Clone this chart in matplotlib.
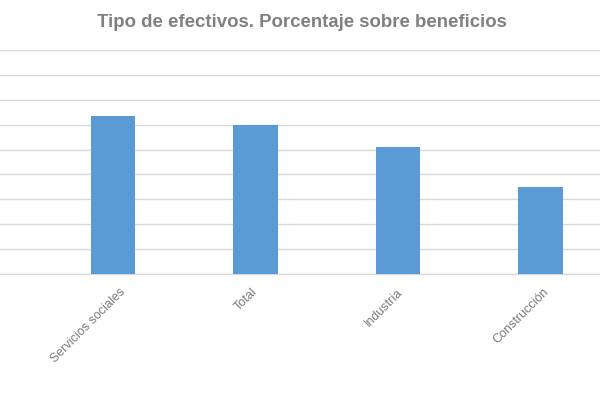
"""Tipo de efectivos: porcentaje sobre beneficios, bar chart."""

import matplotlib
matplotlib.use("Agg")
import matplotlib.pyplot as plt
import matplotlib.transforms as mtransforms

plt.rcParams["font.family"] = ["Liberation Sans", "DejaVu Sans"]

categories = ["Servicios sociales", "Total", "Industria", "Construcción"]
values = [31.7, 29.9, 25.5, 17.5]
title = "Tipo de efectivos. Porcentaje sobre beneficios"

BAR_COLOR = "#5B9BD5"
GRID_COLOR = "#D9D9D9"
TEXT_COLOR = "#808080"

# label end offsets (px) from each tick, as placed in the original
label_dx = [6, -4, -1, 2]


def main() -> None:
    fig = plt.figure(figsize=(6.0, 4.17), dpi=100)
    ax = fig.add_axes([0.0, 0.343, 1.0, 0.537])

    x = list(range(len(categories)))
    ax.bar(x, values, width=0.31, color=BAR_COLOR, zorder=3)

    ax.set_ylim(0, 45)
    ax.set_yticks(range(0, 46, 5))
    ax.set_xlim(-0.793, 3.418)
    ax.yaxis.grid(True, color=GRID_COLOR, linewidth=1.0, zorder=0)
    ax.tick_params(axis="y", left=False, labelleft=False)
    ax.tick_params(axis="x", bottom=False, length=0, pad=0)
    for side in ("top", "right", "left"):
        ax.spines[side].set_visible(False)
    ax.spines["bottom"].set_color(GRID_COLOR)
    ax.spines["bottom"].set_linewidth(1.0)

    ax.set_xticks(x)
    ax.set_xticklabels(categories, rotation=45, ha="right", va="top",
                       rotation_mode="anchor", fontsize=9, color="#7a7a7a")
    for lbl, dx in zip(ax.get_xticklabels(), label_dx):
        off = mtransforms.ScaledTranslation(dx / 100, -12 / 100, fig.dpi_scale_trans)
        lbl.set_transform(lbl.get_transform() + off)

    fig.text(301.5 / 600, 1 - 27 / 417, title, ha="center", va="baseline",
             fontsize=13.4, fontweight="bold", color=TEXT_COLOR)

    fig.savefig("out.png", dpi=100)
    plt.close(fig)


if __name__ == "__main__":
    main()
